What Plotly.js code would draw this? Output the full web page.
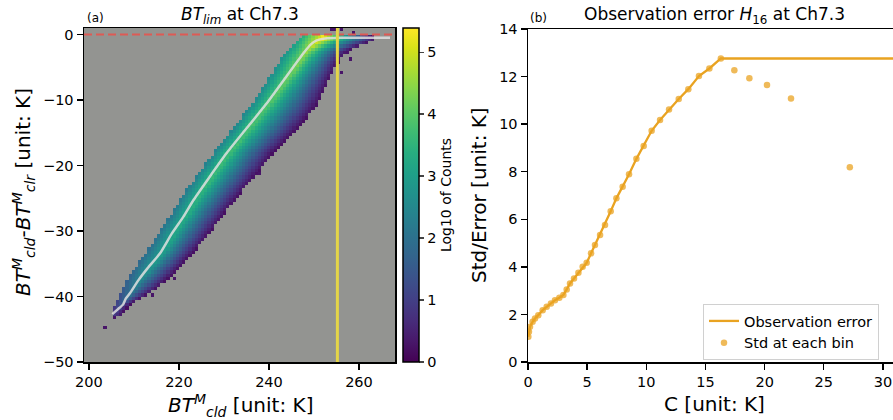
<!DOCTYPE html>
<html>
<head>
<meta charset="utf-8">
<script src="https://cdn.plot.ly/plotly-3.0.1.min.js"></script>
<style>html,body{margin:0;padding:0;background:#fff;}#chart{width:893px;height:420px;}</style>
</head>
<body>
<div id="chart"></div>
<script>
// ---------------- Panel (a): 2-D histogram band, read row by row ----------------
// rows of the band: y level, upper-left edge x, x of max count, lower-right edge x, peak log10 count
const rowY     = [-42.5, -41, -39.5, -38, -36, -34, -32, -30, -28, -26, -24, -22, -20, -18, -16, -14, -12, -10, -8, -6, -4, -2.5, -1.5, -0.8, -0.2];
const rowLeft  = [205.0, 206.0, 207.0, 208.0, 209.8, 212.0, 214.0, 215.8, 217.8, 219.6, 221.5, 223.5, 225.6, 227.7, 230.0, 232.3, 234.5, 236.8, 238.8, 240.6, 242.4, 244.3, 245.8, 246.8, 247.5];
const rowPeakX = [205.8, 207.5, 209.5, 211.0, 213.3, 215.8, 217.7, 219.5, 221.5, 223.3, 225.2, 227.2, 229.3, 231.4, 233.8, 236.1, 238.4, 240.7, 242.9, 245.0, 247.0, 248.6, 250.0, 251.5, 252.0];
const rowRight = [207.5, 209.5, 213.5, 216.5, 219.5, 222.3, 224.8, 227.2, 229.4, 231.6, 234.0, 236.5, 238.8, 241.0, 244.0, 246.8, 249.3, 251.2, 252.6, 254.0, 255.6, 257.5, 261.0, 263.8, 263.0];
const rowPeak  = [1.0, 1.6, 2.1, 2.5, 2.8, 3.0, 3.15, 3.25, 3.35, 3.45, 3.55, 3.65, 3.7, 3.75, 3.8, 3.85, 3.9, 4.0, 4.1, 4.2, 4.35, 4.55, 4.9, 5.25, 5.35];
// isolated low-count cells outside the band
const speckX = [203.3, 205.3, 208.4, 213.9, 219.1, 229.1, 232.1, 238.0, 242.8, 256.1, 257.6, 258.0, 253.6, 254.3, 256.1, 258.7];
const speckY = [-44.9, -43.1, -41.5, -39.8, -37.5, -26.3, -23.7, -21.2, -16.9, -5.7, -2.9, -3.9, 0.6, 0.7, 0.7, 0.4];
// mean curve (light line)
const meanX = [205.2, 206.5, 207.6, 208.2, 209.1, 211.0, 213.0, 215.8, 218.4, 221.0, 223.2, 230.6, 239.5, 247.6, 249.3, 250.6, 252.5, 256.0, 266.9];
const meanY = [-42.7, -41.9, -41.2, -40.3, -39.5, -37.5, -35.7, -33.4, -30.4, -27.8, -25.3, -18.1, -10.5, -2.9, -1.5, -0.9, -0.6, -0.5, -0.5];
const btLim = 255.2;
const clearLine = 0;
const xTicksA = [200, 220, 240, 260];
const yTicksA = [-50, -40, -30, -20, -10, 0];
const cbTicks = [0, 1, 2, 3, 4, 5];

// ---------------- Panel (b): observation error ----------------
const binC   = [0.03, 0.08, 0.17, 0.39, 0.59, 0.87, 1.24, 1.58, 1.94, 2.28, 2.65, 2.99, 3.27, 3.55, 3.89, 4.26, 4.62, 4.96, 5.33, 5.66, 6.09, 6.51, 6.99, 7.47, 8.00, 8.54, 9.16, 9.78, 10.45, 11.16, 11.92, 12.74, 13.55, 14.45, 15.33, 16.30, 17.44, 18.71, 20.20, 22.23, 27.20];
const binStd = [1.06, 1.27, 1.48, 1.69, 1.83, 1.97, 2.18, 2.32, 2.46, 2.60, 2.70, 2.82, 3.05, 3.30, 3.51, 3.75, 4.00, 4.17, 4.57, 4.92, 5.34, 5.76, 6.34, 6.88, 7.37, 7.89, 8.54, 9.08, 9.72, 10.17, 10.62, 11.06, 11.47, 12.02, 12.34, 12.76, 12.27, 11.93, 11.65, 11.08, 8.19];
const errX = [0.03, 0.08, 0.17, 0.39, 0.59, 0.87, 1.24, 1.58, 1.94, 2.28, 2.65, 2.99, 3.27, 3.55, 3.89, 4.26, 4.62, 4.96, 5.33, 5.66, 6.09, 6.51, 6.99, 7.47, 8.00, 8.54, 9.16, 9.78, 10.45, 11.16, 11.92, 12.74, 13.55, 14.45, 15.33, 16.30, 35.0];
const errY = [1.06, 1.27, 1.48, 1.69, 1.83, 1.97, 2.18, 2.32, 2.46, 2.60, 2.70, 2.82, 3.05, 3.30, 3.51, 3.75, 4.00, 4.17, 4.57, 4.92, 5.34, 5.76, 6.34, 6.88, 7.37, 7.89, 8.54, 9.08, 9.72, 10.17, 10.62, 11.06, 11.47, 12.02, 12.34, 12.76, 12.76];
const xTicksB = [0, 5, 10, 15, 20, 25, 30];
const yTicksB = [0, 2, 4, 6, 8, 10, 12, 14];

// ---------- build heatmap table from the row description ----------
const dx = 0.7, dy = 0.5;
const xc = [], yc = [];
for (let x = 199.0 + dx / 2; x < 268; x += dx) xc.push(+x.toFixed(3));
for (let y = -50 + dy / 2; y < 1; y += dy) yc.push(+y.toFixed(3));
function rowAt(y) {
  const n = rowY.length;
  if (y < rowY[0] - dy / 2 || y > rowY[n - 1] + dy / 2) return null;
  let i = 0;
  while (i < n - 2 && y > rowY[i + 1]) i++;
  let t = (y - rowY[i]) / (rowY[i + 1] - rowY[i]);
  t = Math.max(0, Math.min(1, t));
  const L = (a) => a[i] + (a[i + 1] - a[i]) * t;
  return {l: L(rowLeft), p: L(rowPeakX), r: L(rowRight), v: L(rowPeak)};
}
const z = yc.map(y => {
  const R = rowAt(y);
  return xc.map(x => {
    if (!R || x < R.l || x > R.r) return null;
    if (x <= R.p) {
      const t = (x - R.l) / Math.max(0.1, R.p - R.l);
      return R.v * (0.62 + 0.38 * t);
    }
    const t = (x - R.p) / Math.max(0.1, R.r - R.p);
    return 0.2 + (R.v - 0.2) * Math.pow(1 - t, 1.1);
  });
});
speckX.forEach((sx, k) => {
  const i = Math.round((sx - xc[0]) / dx), j = Math.round((speckY[k] - yc[0]) / dy);
  if (z[j] && i >= 0 && i < xc.length && z[j][i] === null) z[j][i] = 0.3;
});

const FF = 'DejaVu Sans, sans-serif';
const TF = {family: FF, size: 14.5, color: '#000'};
const orange = '#e9a321';

const traces = [
  {type: 'heatmap', x: xc, y: yc, z: z, xaxis: 'x', yaxis: 'y', colorscale: 'Viridis', zmin: 0, zmax: 5.39,
   zsmooth: false, hoverinfo: 'skip', showlegend: false,
   colorbar: {x: 403 / 893, xanchor: 'left', y: 58 / 420, yanchor: 'bottom', len: 334 / 420, lenmode: 'fraction',
              thickness: 16, outlinewidth: 1.5, outlinecolor: '#000', ticks: 'outside', ticklen: 5, tickwidth: 1.3,
              tickvals: cbTicks, tickfont: TF, xpad: 0, ypad: 0,
              title: {text: 'Log10 of Counts', side: 'right', font: {family: FF, size: 14, color: '#000'}}}},
  {type: 'scatter', mode: 'lines', x: meanX, y: meanY, xaxis: 'x', yaxis: 'y',
   line: {color: 'rgba(225,225,225,0.85)', width: 2.5, shape: 'spline', smoothing: 0.5}, showlegend: false, hoverinfo: 'skip'},
  {type: 'scatter', mode: 'lines', x: errX, y: errY, xaxis: 'x2', yaxis: 'y2', name: 'Observation error',
   line: {color: orange, width: 2.3}},
  {type: 'scatter', mode: 'markers', x: binC, y: binStd, xaxis: 'x2', yaxis: 'y2', name: 'Std at each bin',
   marker: {color: orange, size: 6.5, opacity: 0.75, line: {width: 0}}}
];

const axBase = {showgrid: false, zeroline: false, showline: true, linecolor: '#000', linewidth: 1.5,
                ticks: 'outside', ticklen: 6, tickwidth: 1.4, tickcolor: '#000', tickfont: TF, automargin: false};

const layout = {
  width: 893, height: 420, margin: {l: 0, r: 0, t: 0, b: 0},
  paper_bgcolor: '#fff', plot_bgcolor: 'rgba(0,0,0,0)',
  font: {family: FF, color: '#000'},
  xaxis: Object.assign({}, axBase, {domain: [84 / 893, 395 / 893], range: [198.9, 268], tickvals: xTicksA, mirror: true, anchor: 'y'}),
  yaxis: Object.assign({}, axBase, {domain: [58 / 420, 392 / 420], range: [-50, 1], tickvals: yTicksA, mirror: true, anchor: 'x'}),
  xaxis2: Object.assign({}, axBase, {domain: [528 / 893, 1], range: [0, 30.85], tickvals: xTicksB, mirror: true, anchor: 'y2'}),
  yaxis2: Object.assign({}, axBase, {domain: [58 / 420, 391 / 420], range: [0, 14], tickvals: yTicksB, anchor: 'x2'}),
  showlegend: true,
  legend: {x: 703 / 893, y: 1 - 304 / 420, xanchor: 'left', yanchor: 'top', bgcolor: 'rgba(255,255,255,0.85)',
           bordercolor: '#d0d0d0', borderwidth: 1, font: {family: FF, size: 14.5, color: '#000'}, itemwidth: 30},
  shapes: [
    {type: 'rect', xref: 'x domain', yref: 'y domain', x0: 0, x1: 1, y0: 0, y1: 1, fillcolor: '#939491', line: {width: 0}, layer: 'below'},
    {type: 'line', xref: 'x domain', yref: 'y', x0: 0, x1: 1, y0: clearLine, y1: clearLine, line: {color: '#de5a55', width: 2, dash: '8px,4px'}, layer: 'above'},
    {type: 'line', xref: 'x', yref: 'y domain', x0: btLim, x1: btLim, y0: 0, y1: 1, line: {color: '#e4d548', width: 3}, layer: 'above'}
  ],
  annotations: [
    {xref: 'paper', yref: 'paper', x: 85 / 893, y: 1 - 18 / 420, xanchor: 'left', yanchor: 'middle', showarrow: false, text: '(a)', font: {family: FF, size: 12}},
    {xref: 'paper', yref: 'paper', x: 240 / 893, y: 1 - 16 / 420, xanchor: 'center', yanchor: 'middle', showarrow: false,
     text: '<i>BT</i><sub><i>lim</i></sub> at Ch7.3', font: {family: FF, size: 17}},
    {xref: 'paper', yref: 'paper', x: 528 / 893, y: 1 - 18 / 420, xanchor: 'left', yanchor: 'middle', showarrow: false, text: '(b)', font: {family: FF, size: 12}},
    {xref: 'paper', yref: 'paper', x: 714 / 893, y: 1 - 16 / 420, xanchor: 'center', yanchor: 'middle', showarrow: false,
     text: 'Observation error <i>H</i><sub>16</sub> at Ch7.3', font: {family: FF, size: 17}},
    {xref: 'paper', yref: 'paper', x: 240 / 893, y: 1 - 405 / 420, xanchor: 'center', yanchor: 'middle', showarrow: false,
     text: '<i>BT</i><sup><i>M</i></sup><sub><i>cld</i></sub> [unit: K]', font: {family: FF, size: 20}},
    {xref: 'paper', yref: 'paper', x: 24 / 893, y: 1 - 192 / 420, xanchor: 'center', yanchor: 'middle', showarrow: false, textangle: -90,
     text: '<i>BT</i><sup><i>M</i></sup><sub><i>cld</i></sub>-<i>BT</i><sup><i>M</i></sup><sub><i>clr</i></sub> [unit: K]', font: {family: FF, size: 20}},
    {xref: 'paper', yref: 'paper', x: 714 / 893, y: 1 - 404 / 420, xanchor: 'center', yanchor: 'middle', showarrow: false,
     text: 'C [unit: K]', font: {family: FF, size: 20}},
    {xref: 'paper', yref: 'paper', x: 479 / 893, y: 1 - 195 / 420, xanchor: 'center', yanchor: 'middle', showarrow: false, textangle: -90,
     text: 'Std/Error [unit: K]', font: {family: FF, size: 20}}
  ]
};

Plotly.newPlot('chart', traces, layout, {displayModeBar: false, staticPlot: true});
</script>
</body>
</html>
